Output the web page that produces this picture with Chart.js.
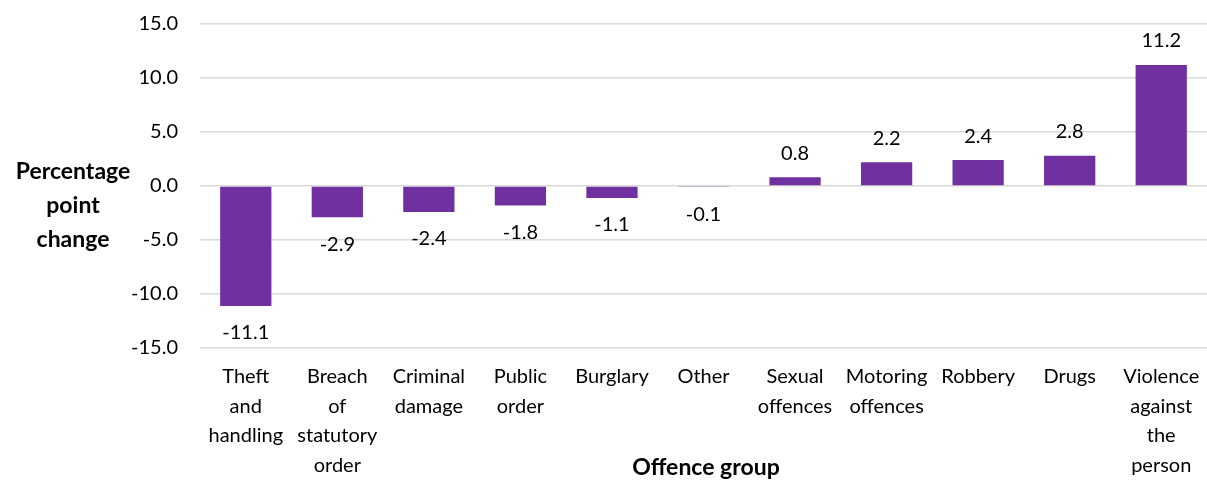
<!DOCTYPE html>
<html>
<head>
<meta charset="utf-8">
<script src="https://cdn.jsdelivr.net/npm/chart.js@4/dist/chart.umd.min.js"></script>
<style>
  html, body { margin: 0; padding: 0; background: #fff; }
  #wrap { width: 1207px; height: 481px; position: relative; }
</style>
</head>
<body>
<div id="wrap"><canvas id="myChart" width="1207" height="481"></canvas></div>
<script>
// offence groups (multi-line as in the reference)
const groups = [
  ['Theft', 'and', 'handling'],
  ['Breach', 'of', 'statutory', 'order'],
  ['Criminal', 'damage'],
  ['Public', 'order'],
  ['Burglary'],
  ['Other'],
  ['Sexual', 'offences'],
  ['Motoring', 'offences'],
  ['Robbery'],
  ['Drugs'],
  ['Violence', 'against', 'the', 'person']
]
const changes = [-11.1, -2.9, -2.4, -1.8, -1.1, -0.1, 0.8, 2.2, 2.4, 2.8, 11.2]
const yTitle = ['Percentage', 'point', 'change']
const xTitle = 'Offence group'

const fontFam = 'Lato, "Open Sans", sans-serif'

// value labels above / below each bar
const barLabels = {
  id: 'barLabels',
  afterDatasetsDraw(chart) {
    const c = chart.ctx
    const meta = chart.getDatasetMeta(0)
    c.save()
    c.font = '20px ' + fontFam
    c.fillStyle = '#000'
    c.textAlign = 'center'
    meta.data.forEach((bar, i) => {
      const v = changes[i]
      if (v >= 0) {
        c.textBaseline = 'bottom'
        c.fillText(v.toFixed(1), bar.x, bar.y - 14)
      } else {
        c.textBaseline = 'top'
        c.fillText(v.toFixed(1), bar.x, bar.y + 17)
      }
    })
    c.restore()
  }
}

// horizontal axis titles like the Excel original
const axisTitles = {
  id: 'axisTitles',
  afterDraw(chart) {
    const c = chart.ctx
    c.save()
    c.font = 'bold 23px ' + fontFam
    c.fillStyle = '#000'
    c.textAlign = 'center'
    c.textBaseline = 'middle'
    yTitle.forEach((t, i) => c.fillText(t, 73, 172 + i * 34))
    c.fillText(xTitle, 706, 468)
    c.restore()
  }
}

const ctx = document.getElementById('myChart').getContext('2d')
const myChart = new Chart(ctx, {
  type: 'bar',
  data: {
    labels: groups,
    datasets: [{
      data: changes,
      backgroundColor: '#7030A0',
      borderWidth: 0,
      barPercentage: 0.56,
      categoryPercentage: 1
    }]
  },
  options: {
    responsive: false,
    animation: false,
    layout: { padding: { top: 24, left: 0, right: 0, bottom: 0 } },
    plugins: {
      legend: { display: false },
      tooltip: { enabled: false }
    },
    scales: {
      x: {
        grid: { display: false },
        border: { display: false },
        ticks: {
          color: '#000',
          font: { family: fontFam, size: 20, lineHeight: 1.48 },
          maxRotation: 0,
          autoSkip: false,
          padding: 6
        },
        afterFit(scale) {
          scale.height = 133
          scale.paddingLeft = 0
          scale.paddingRight = 0
        }
      },
      y: {
        min: -15,
        max: 15,
        grid: { color: '#d9d9d9', lineWidth: 1.5, drawTicks: false },
        border: { display: false },
        ticks: {
          stepSize: 5,
          color: '#000',
          padding: 22,
          font: { family: fontFam, size: 20 },
          callback: v => v.toFixed(1)
        },
        afterFit(scale) {
          scale.width = 200
          scale.paddingTop = 0
          scale.paddingBottom = 0
        }
      }
    }
  },
  plugins: [barLabels, axisTitles]
})
</script>
</body>
</html>
